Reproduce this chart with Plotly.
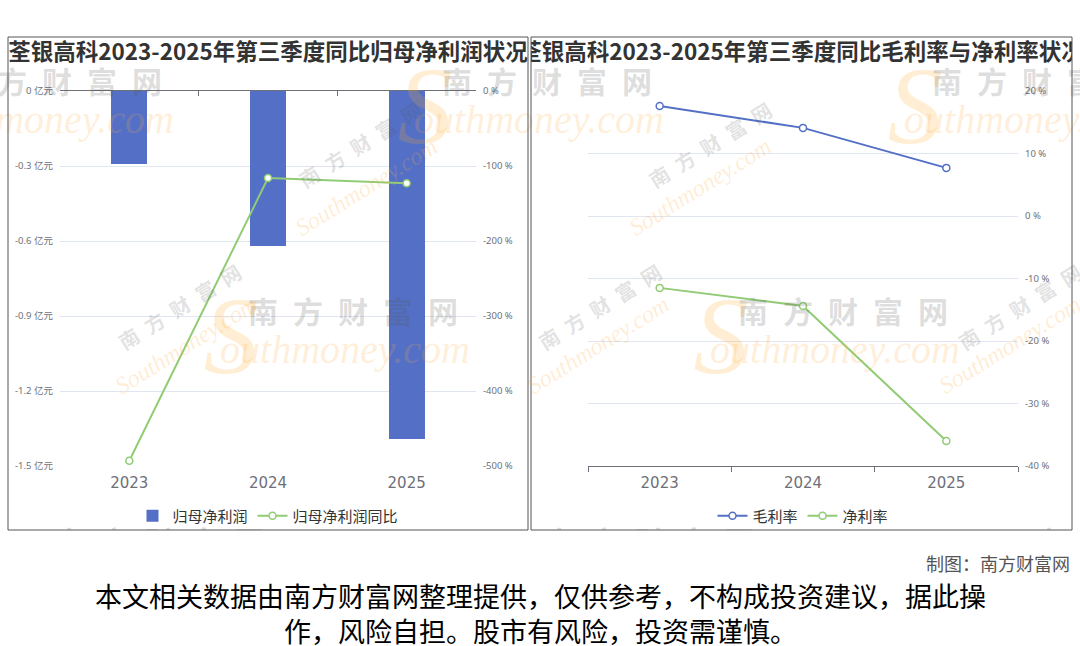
import plotly.graph_objects as go

# ---------------------------------------------------------------- data
years = ["2023", "2024", "2025"]
net_profit = [-0.29, -0.62, -1.39]          # 归母净利润, 亿元
net_profit_yoy = [-493.0, -116.0, -123.0]   # 归母净利润同比, %
gross_margin = [17.6, 14.1, 7.7]            # 毛利率, %
net_margin = [-11.5, -14.4, -36.0]          # 净利率, %

profit_ticks = [0, -0.3, -0.6, -0.9, -1.2, -1.5]
profit_tick_text = [f"{v:g} 亿元" for v in profit_ticks]
yoy_ticks = [0, -100, -200, -300, -400, -500]
yoy_tick_text = [f"{v} %" for v in yoy_ticks]
margin_ticks = [20, 10, 0, -10, -20, -30, -40]
margin_tick_text = [f"{v} %" for v in margin_ticks]

title_left = "荃银高科2023-2025年第三季度同比归母净利润状况"
title_right = "荃银高科2023-2025年第三季度同比毛利率与净利率状况"
source_note = "制图：南方财富网"
disclaimer = ("本文相关数据由南方财富网整理提供，仅供参考，不构成投资建议，据此操"
              "<br>作，风险自担。股市有风险，投资需谨慎。")

# ---------------------------------------------------------------- helpers
W, H = 1080, 646


def px(x):
    return x / W


def py(y):
    return 1 - y / H


BLUE = "#5470c6"
GREEN = "#91cc75"
AXIS = "#6E7079"
GRID = "#E0E6F1"
CJK = "Noto Sans CJK SC"
TICK_FONT = dict(family="Noto Sans, Noto Sans CJK SC", size=9.5, color=AXIS)
CAT_FONT = dict(family="DejaVu Sans", size=15, color=AXIS)

fig = go.Figure()

# ---------------------------------------------------------------- left chart
fig.add_trace(go.Bar(
    x=years, y=net_profit, name="归母净利润",
    marker=dict(color=BLUE, line=dict(width=0)), width=0.26,
    xaxis="x", yaxis="y", legend="legend",
))
fig.add_trace(go.Scatter(
    x=years, y=net_profit_yoy, name="归母净利润同比", mode="lines+markers",
    line=dict(color=GREEN, width=2),
    marker=dict(symbol="circle", size=7, color="white",
                line=dict(color=GREEN, width=1.5)),
    xaxis="x2", yaxis="y2", legend="legend",
))

# ---------------------------------------------------------------- right chart
fig.add_trace(go.Scatter(
    x=years, y=gross_margin, name="毛利率", mode="lines+markers",
    line=dict(color=BLUE, width=2),
    marker=dict(symbol="circle", size=7, color="white",
                line=dict(color=BLUE, width=1.5)),
    xaxis="x3", yaxis="y3", legend="legend2",
))
fig.add_trace(go.Scatter(
    x=years, y=net_margin, name="净利率", mode="lines+markers",
    line=dict(color=GREEN, width=2),
    marker=dict(symbol="circle", size=7, color="white",
                line=dict(color=GREEN, width=1.5)),
    xaxis="x3", yaxis="y3", legend="legend2",
))

# ---------------------------------------------------------------- watermark layer (clipped to the chart band)
wm_x, wm_y = [], []
for r in range(3):
    base = 57 + 296 * r
    for k in range(-2, 4):
        cx = base + 490 * k
        if -260 < cx < 1340:
            wm_x.append(cx)
            wm_y.append(85 + 230 * r)

sp = "\u2002"
fig.add_trace(go.Scatter(
    x=[x - 122 for x in wm_x], y=[y + 30 for y in wm_y], mode="text",
    text=["S"] * len(wm_x), textposition="middle center",
    textfont=dict(family="Liberation Serif", size=110, style="italic",
                  color="rgba(255,168,40,0.2)"),
    xaxis="x4", yaxis="y4", showlegend=False, hoverinfo="skip",
))
fig.add_trace(go.Scatter(
    x=wm_x, y=wm_y, mode="text",
    text=[sp.join("南方财富网")] * len(wm_x), textposition="middle center",
    textfont=dict(family=CJK, size=30, weight="bold", color="rgba(80,80,80,0.2)"),
    xaxis="x4", yaxis="y4", showlegend=False, hoverinfo="skip",
))
fig.add_trace(go.Scatter(
    x=[x - 8 for x in wm_x], y=[y + 38 for y in wm_y], mode="text",
    text=["outhmoney.com"] * len(wm_x), textposition="middle center",
    textfont=dict(family="Liberation Serif", size=40, style="italic",
                  color="rgba(255,170,60,0.2)"),
    xaxis="x4", yaxis="y4", showlegend=False, hoverinfo="skip",
))

# ---------------------------------------------------------------- titles (clipped to their panels)
for title, ax in [(title_left, "5"), (title_right, "6")]:
    fig.add_trace(go.Scatter(
        x=[0.5], y=[0.5], mode="text", text=[title], textposition="middle center",
        textfont=dict(family=CJK, size=22.5, weight="bold", color="#333333"),
        xaxis="x" + ax, yaxis="y" + ax, showlegend=False, hoverinfo="skip",
    ))

hidden = dict(visible=False, fixedrange=True, showgrid=False, zeroline=False)

fig.update_layout(
    width=W, height=H,
    margin=dict(l=0, r=0, t=0, b=0, autoexpand=False),
    paper_bgcolor="white",
    plot_bgcolor="rgba(0,0,0,0)",
    font=dict(family=CJK, color="#333333"),
    bargap=0,
    # left chart: bar axis carries the zero line and boundary ticks on top
    xaxis=dict(domain=[px(60), px(476)], anchor="y", type="category",
               categoryorder="array", categoryarray=years,
               range=[-0.5, 2.5], side="top", showline=True, linecolor=AXIS,
               linewidth=1, ticks="inside", tickson="boundaries", ticklen=5,
               tickcolor=AXIS, showticklabels=False, showgrid=False,
               fixedrange=True),
    # left chart: year labels below the plot
    xaxis2=dict(overlaying="x", side="bottom", anchor="y", type="category",
                categoryorder="array", categoryarray=years,
                range=[-0.5, 2.5], showline=False, ticks="", showgrid=False,
                tickfont=CAT_FONT, ticklabelstandoff=6, fixedrange=True),
    yaxis=dict(domain=[py(466), py(91)], anchor="x", range=[-1.5, 0],
               tickmode="array", tickvals=profit_ticks, ticktext=profit_tick_text,
               tickfont=TICK_FONT, showgrid=True, gridcolor=GRID, gridwidth=1,
               zeroline=False, showline=False, ticks="", ticklabelstandoff=6,
               fixedrange=True),
    yaxis2=dict(overlaying="y", side="right", anchor="x", range=[-500, 0],
                tickmode="array", tickvals=yoy_ticks, ticktext=yoy_tick_text,
                tickfont=TICK_FONT, showgrid=False, zeroline=False,
                showline=False, ticks="", ticklabelstandoff=6, fixedrange=True),
    # right chart axes
    xaxis3=dict(domain=[px(588), px(1018)], anchor="y3", type="category",
                range=[-0.5, 2.5], showline=True, linecolor=AXIS, linewidth=1,
                ticks="outside", tickson="boundaries", ticklen=5, tickcolor=AXIS,
                showgrid=False, tickfont=CAT_FONT, ticklabelstandoff=3,
                fixedrange=True),
    yaxis3=dict(domain=[py(466), py(91)], anchor="x3", side="right",
                range=[-40, 20], tickmode="array", tickvals=margin_ticks,
                ticktext=margin_tick_text, tickfont=TICK_FONT, showgrid=True,
                gridcolor=GRID, gridwidth=1, zeroline=False, showline=False,
                ticks="", ticklabelstandoff=6, fixedrange=True),
    # watermark band
    xaxis4=dict(domain=[0, 1], anchor="y4", range=[0, W], **hidden),
    yaxis4=dict(domain=[py(530), py(37)], anchor="x4", range=[530, 37], **hidden),
    # title strips
    xaxis5=dict(domain=[px(8), px(528)], anchor="y5", range=[0, 1], **hidden),
    yaxis5=dict(domain=[py(72), py(37)], anchor="x5", range=[0, 1], **hidden),
    xaxis6=dict(domain=[px(531), px(1072)], anchor="y6", range=[0, 1], **hidden),
    yaxis6=dict(domain=[py(72), py(37)], anchor="x6", range=[0, 1], **hidden),
    legend=dict(orientation="h", x=px(268), xanchor="center", y=py(516),
                yanchor="middle", font=dict(family=CJK, size=15, color="#333333"),
                bgcolor="rgba(0,0,0,0)", itemclick=False, itemdoubleclick=False),
    legend2=dict(orientation="h", x=px(803), xanchor="center", y=py(516),
                 yanchor="middle", font=dict(family=CJK, size=15, color="#333333"),
                 bgcolor="rgba(0,0,0,0)", itemclick=False, itemdoubleclick=False),
    showlegend=True,
)

# panel frames
for x0, x1 in [(8, 528), (531, 1072)]:
    fig.add_shape(type="rect", xref="paper", yref="paper",
                  x0=px(x0), x1=px(x1), y0=py(530), y1=py(37),
                  line=dict(color="#555555", width=1), fillcolor="rgba(0,0,0,0)")

# rotated small watermark marks
for cx, cy in [(110, 307), (600, 307), (1090, 307), (290, 92), (780, 92)]:
    fig.add_annotation(x=px(cx), y=py(cy), xref="paper", yref="paper",
                       text=sp.join("南方财富网"), showarrow=False, textangle=-32,
                       font=dict(family=CJK, size=20, weight="bold",
                                 color="rgba(80,80,80,0.18)"))
    fig.add_annotation(x=px(cx - 2), y=py(cy + 38), xref="paper", yref="paper",
                       text="Southmoney.com", showarrow=False, textangle=-32,
                       font=dict(family="Liberation Serif", size=24, style="italic",
                                 color="rgba(255,170,60,0.22)"))

# footer
fig.add_annotation(x=px(1072), y=py(563), xref="paper", yref="paper",
                   xanchor="right", yanchor="middle", text=source_note,
                   showarrow=False, font=dict(family=CJK, size=18, color="#555555"))
fig.add_annotation(x=0.5, y=py(613), xref="paper", yref="paper",
                   xanchor="center", yanchor="middle", align="center",
                   text=disclaimer, showarrow=False,
                   font=dict(family=CJK, size=27, color="#000000"))

fig.write_html("out.html")
